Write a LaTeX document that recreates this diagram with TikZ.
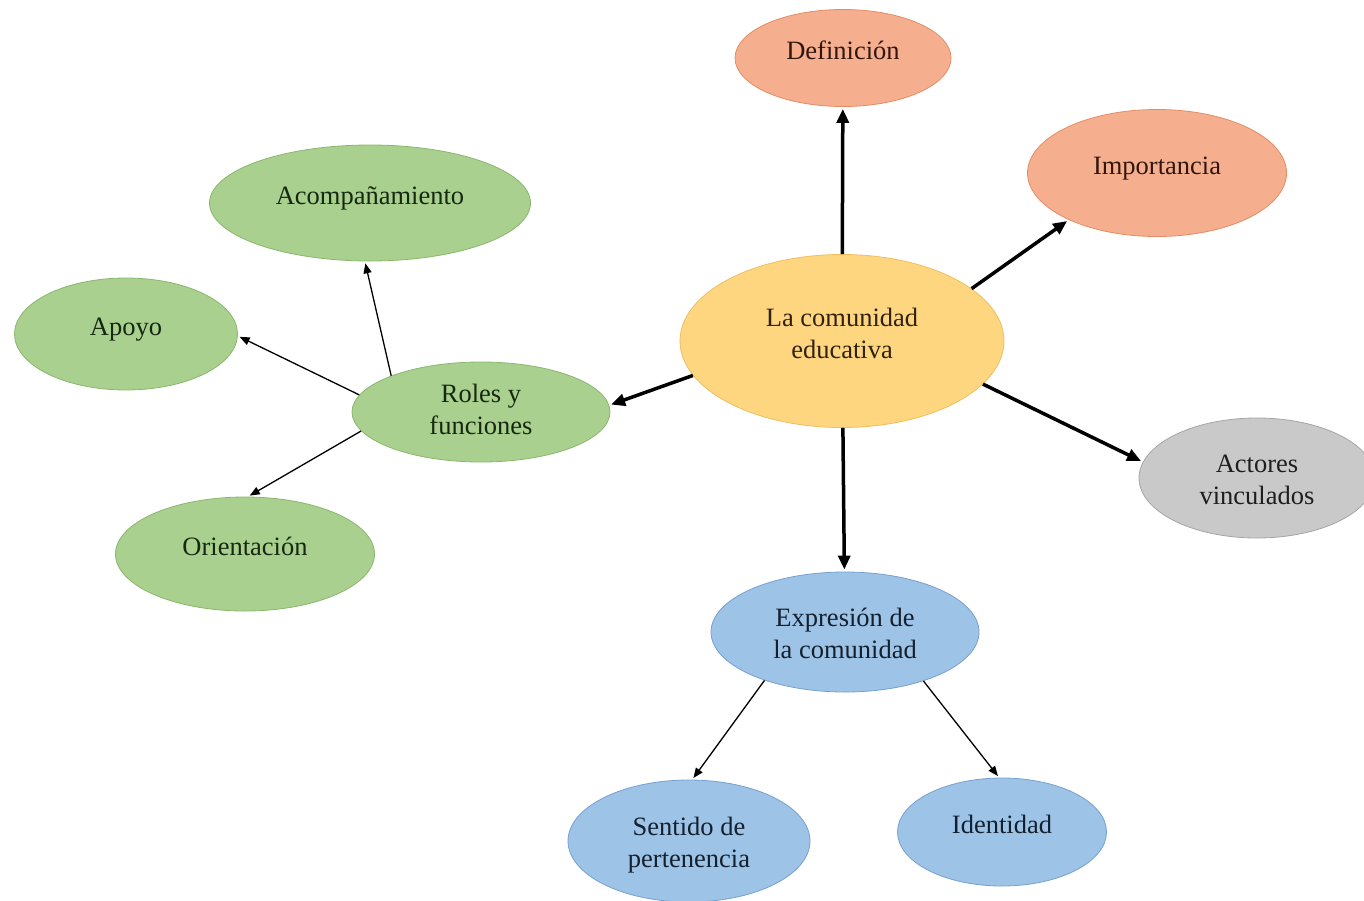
\documentclass[tikz,border=0pt]{standalone}
\usepackage{fontspec}
\setmainfont{Liberation Serif}
\usetikzlibrary{arrows.meta,shapes.geometric}

\definecolor{salmonfill}{RGB}{245,175,143}
\definecolor{salmonline}{RGB}{228,140,100}
\definecolor{salmontext}{RGB}{50,22,14}
\definecolor{yellowfill}{RGB}{255,214,128}
\definecolor{yellowline}{RGB}{238,190,95}
\definecolor{yellowtext}{RGB}{48,34,14}
\definecolor{greenfill}{RGB}{169,208,142}
\definecolor{greenline}{RGB}{138,183,108}
\definecolor{greentext}{RGB}{22,40,16}
\definecolor{greyfill}{RGB}{201,201,201}
\definecolor{greyline}{RGB}{165,165,165}
\definecolor{greytext}{RGB}{30,30,30}
\definecolor{bluefill}{RGB}{157,195,230}
\definecolor{blueline}{RGB}{118,160,208}
\definecolor{bluetext}{RGB}{20,32,46}

\newcommand{\lift}[2][5pt]{\raisebox{#1}[\height][\depth]{\begin{tabular}{@{}c@{}}#2\end{tabular}}}

\tikzset{
  bubble/.style={ellipse,draw,line width=0.8pt,inner sep=0pt,
    font=\fontsize{26.5}{32}\selectfont},
  salmonbubble/.style={bubble,fill=salmonfill,draw=salmonline,text=salmontext},
  yellowbubble/.style={bubble,fill=yellowfill,draw=yellowline,text=yellowtext},
  greenbubble/.style={bubble,fill=greenfill,draw=greenline,text=greentext},
  greybubble/.style={bubble,fill=greyfill,draw=greyline,text=greytext},
  bluebubble/.style={bubble,fill=bluefill,draw=blueline,text=bluetext},
  bigarrow/.style={line width=3.5pt,-{Triangle[length=14pt,width=12pt]},shorten >=2pt},
  smallarrow/.style={line width=1.3pt,-{Triangle[length=10pt,width=8pt]},shorten >=2pt}
}

\begin{document}
\begin{tikzpicture}[x=1pt,y=-1pt]
  \useasboundingbox (0,0) rectangle (1364,900);

  % centre
  \node[yellowbubble,minimum width=324pt,minimum height=173pt] (ce) at (842,341) {\lift{La comunidad\\educativa}};

  % first ring
  \node[salmonbubble,minimum width=216pt,minimum height=97pt] (def) at (843,58) {\lift{Definición}};
  \node[salmonbubble,minimum width=259pt,minimum height=127pt] (imp) at (1157,173) {\lift{Importancia}};
  \node[greybubble,minimum width=236pt,minimum height=120pt] (act) at (1257,478) {\lift[-4pt]{Actores\\vinculados}};
  \node[bluebubble,minimum width=268pt,minimum height=120pt] (expr) at (845,632) {\lift[-4pt]{Expresión de\\la comunidad}};
  \node[greenbubble,minimum width=258pt,minimum height=100pt] (roles) at (481,412) {\lift[0pt]{Roles y\\funciones}};

  % second ring
  \node[bluebubble,minimum width=242pt,minimum height=122pt] (sent) at (689,841) {\lift[-4pt]{Sentido de\\pertenencia}};
  \node[bluebubble,minimum width=209pt,minimum height=108pt] (ident) at (1002,832) {\lift{Identidad}};
  \node[greenbubble,minimum width=321pt,minimum height=116pt] (acomp) at (370,203) {\lift{Acompañamiento}};
  \node[greenbubble,minimum width=223pt,minimum height=112pt] (apoyo) at (126,334) {\lift{Apoyo}};
  \node[greenbubble,minimum width=259pt,minimum height=114pt] (orient) at (245,554) {\lift{Orientación}};

  \begin{scope}[bigarrow]
    \draw (ce) to (def);
    \draw (ce.22) to (imp.208);
    \draw (ce.-17) to (act.172);
    \draw (ce) to (expr);
    \draw (ce.193) to (roles.3);
  \end{scope}
  \begin{scope}[smallarrow]
    \draw (roles.158) to (acomp.265);
    \draw (roles.172) to (apoyo.-1);
    \draw (roles.189) to (orient.87);
    \draw (expr.211) to (sent.87);
    \draw (expr.-32) to (ident.93);
  \end{scope}
\end{tikzpicture}
\end{document}
